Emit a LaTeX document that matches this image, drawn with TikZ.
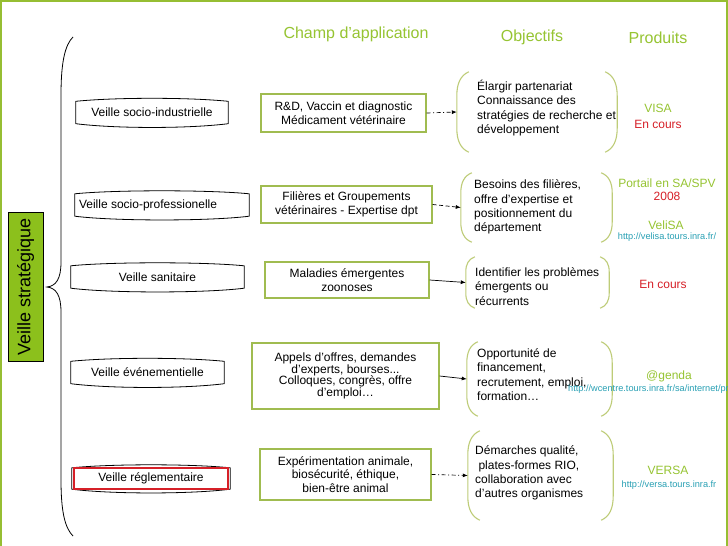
\documentclass[tikz,border=0pt]{standalone}
\usepackage{fontspec}
\setmainfont{Liberation Sans}
\usetikzlibrary{arrows.meta}
\definecolor{frameg}{RGB}{150,190,50}
\definecolor{hdrg}{RGB}{150,196,50}
\definecolor{boxg}{RGB}{160,188,80}
\definecolor{parg}{RGB}{190,204,120}
\definecolor{lblg}{RGB}{140,192,28}
\definecolor{redc}{RGB}{214,32,40}
\definecolor{tealc}{RGB}{40,160,180}
\newcommand\mybody{\fontsize{12}{13.5}\selectfont}
\newcommand\myobj{\fontsize{12}{14.3}\selectfont}
\newcommand\myhdr{\fontsize{16}{19}\selectfont}
\newcommand\myurl{\fontsize{9.2}{11}\selectfont}
\newcommand\lboxdraw[1]{%
  \draw[lboxline] (#1.north west)
    .. controls ([xshift=40pt,yshift=4pt]#1.north west) and ([xshift=-40pt,yshift=4pt]#1.north east) .. (#1.north east)
    -- (#1.south east)
    .. controls ([xshift=-40pt,yshift=-5pt]#1.south east) and ([xshift=40pt,yshift=-5pt]#1.south west) .. (#1.south west)
    -- cycle;}
\newcommand\objparens[3]{%
  \draw[parline] ([xshift=#2]#1.north west)
    .. controls ([xshift=0.3*#2,yshift=-0.15*#3]#1.north west) and ([yshift=-0.5*#3]#1.north west) .. ([yshift=-#3]#1.north west)
    -- ([yshift=#3]#1.south west)
    .. controls ([yshift=0.5*#3]#1.south west) and ([xshift=0.3*#2,yshift=0.15*#3]#1.south west) .. ([xshift=#2]#1.south west);
  \draw[parline] ([xshift=-#2]#1.north east)
    .. controls ([xshift=-0.3*#2,yshift=-0.15*#3]#1.north east) and ([yshift=-0.5*#3]#1.north east) .. ([yshift=-#3]#1.north east)
    -- ([yshift=#3]#1.south east)
    .. controls ([yshift=0.5*#3]#1.south east) and ([xshift=-0.3*#2,yshift=0.15*#3]#1.south east) .. ([xshift=-#2]#1.south east);}
\tikzset{
  lboxline/.style={draw=black, line width=0.8pt, line join=round},
  lbox/.style={draw=none, minimum height=22, inner sep=0, font=\mybody},
  midbox/.style={draw=boxg, line width=1.2pt, inner sep=0, align=center, font=\mybody},
  objreg/.style={draw=none, inner sep=0},
  objtxt/.style={anchor=west, align=left, inner sep=0, font=\myobj},
  parline/.style={draw=parg, line width=1.1pt},
  hdr/.style={text=hdrg, font=\myhdr, inner sep=0},
  prodg/.style={text=hdrg, font=\mybody, inner sep=0},
  prodr/.style={text=redc, font=\mybody, inner sep=0},
  produrl/.style={text=tealc, font=\myurl, inner sep=0},
  arr/.style={-{Latex[length=5pt,width=4pt]}, line width=0.7pt},
  arrdd/.style={arr, dash pattern=on 4pt off 2.5pt on 1pt off 2.5pt},
  arrds/.style={arr, dash pattern=on 4pt off 2.5pt},
}
\begin{document}
\begin{tikzpicture}[x=1pt,y=-1pt]
\useasboundingbox (0,0) rectangle (728,546);
\clip (0,0) rectangle (728,546);
\fill[white] (0,0) rectangle (728,546);
\draw[frameg, line width=1.5pt] (1,547) -- (1,1) -- (727,1) -- (727,547);

% headers
\node[hdr] (h1) at (356,34) {Champ d’application};
\node[hdr] (h2) at (532,37) {Objectifs};
\node[hdr] (h3) at (658,38) {Produits};

% left label
\node[draw=black, line width=0.8pt, fill=lblg, rotate=90, minimum width=149, minimum height=35, inner sep=0, font=\fontsize{18}{21}\selectfont] (vs) at (25.5,286.5) {Veille stratégique};

% brace
\coordinate (tip) at (47,287);
\draw[line width=0.8pt] (73,37) .. controls (65,45) and (61,62) .. (61,95) -- (61,262)
  .. controls (61,279) and (56,286) .. (tip)
  .. controls (56,288) and (61,295) .. (61,312) -- (61,480)
  .. controls (61,512) and (65,528) .. (73,536);

% left boxes
\node[lbox, minimum width=152] (v1) at (152,112.5) {Veille socio-industrielle};
\node[lbox, minimum width=174] (v2) at (162,205) {\makebox[166pt][l]{Veille socio-professionelle}};
\node[lbox, minimum width=173] (v3) at (157.5,277) {Veille sanitaire};
\node[lbox, minimum width=153] (v4) at (147.5,372.5) {Veille événementielle};
\node[lbox, minimum width=158, minimum height=21] (v5) at (151,478.5) {Veille réglementaire};
\lboxdraw{v1}
\lboxdraw{v2}
\lboxdraw{v3}
\lboxdraw{v4}
\lboxdraw{v5}
\node[draw=redc, line width=1.8pt, minimum width=154, minimum height=21, inner sep=0] (v5r) at (v5) {};

% middle boxes
\node[midbox, minimum width=165, minimum height=38] (m1) at (343.5,113) {R\&D, Vaccin et diagnostic\\Médicament vétérinaire};
\node[midbox, minimum width=171, minimum height=37] (m2) at (346.5,204.5) {Filières et Groupements\\vétérinaires - Expertise dpt};
\node[midbox, minimum width=164, minimum height=36] (m3) at (347,280) {Maladies émergentes\\zoonoses};
\node[midbox, minimum width=187, minimum height=66, font=\fontsize{12}{11.7}\selectfont] (m4) at (345.5,376) {Appels d’offres, demandes\\d’experts, bourses...\\Colloques, congrès, offre\\d’emploi…};
\node[midbox, minimum width=171, minimum height=51] (m5) at (345.5,474.5) {Expérimentation animale,\\biosécurité, éthique,\\bien-être animal};

% objective regions
\node[objreg, minimum width=160, minimum height=80] (o1) at (537,112) {};
\node[objreg, minimum width=151, minimum height=69] (o2) at (536.5,207.5) {};
\node[objreg, minimum width=143, minimum height=51] (o3) at (537.5,282.5) {};
\node[objreg, minimum width=145, minimum height=74] (o4) at (539.5,379) {};
\node[objreg, minimum width=145, minimum height=89] (o5) at (540.5,475.5) {};
\objparens{o1}{12pt}{24pt}
\objparens{o2}{11pt}{20pt}
\objparens{o3}{9pt}{15pt}
\objparens{o4}{11pt}{21pt}
\objparens{o5}{12pt}{24pt}

\node[objtxt] (t1) at (477,108) {Élargir partenariat\\Connaissance des\\stratégies de recherche et\\développement};
\node[objtxt] (t2) at (474,207) {Besoins des filières,\\offre d’expertise et\\positionnement du\\département};
\node[objtxt] (t3) at (475,286.5) {Identifier les problèmes\\émergents ou\\récurrents};
\node[objtxt] (t4) at (477,374.5) {Opportunité de\\financement,\\recrutement, emploi,\\formation…};
\node[objtxt] (t5) at (475,473) {Démarches qualité,\\\ plates-formes RIO,\\collaboration avec\\d’autres organismes};

% arrows
\draw[arrdd] (m1.east) -- (o1.west);
\draw[arrds] (m2.east) -- (o2.west);
\draw[arr] (m3.east) -- (o3.west);
\draw[arr] (m4.east) -- (o4.west);
\draw[arrdd] (m5.east) -- (o5.west);

% products
\node[prodg] (p1) at (658,108) {VISA};
\node[prodr] (p1s) at (658,124) {En cours};
\node[prodg] (p2) at (667,183) {Portail en SA/SPV};
\node[prodr] (p2s) at (667,196) {2008};
\node[prodg] (p2b) at (666,225) {VeliSA};
\node[produrl] (p2u) at (667,237) {http://velisa.tours.inra.fr/};
\node[prodr] (p3) at (663,284) {En cours};
\node[prodg] (p4) at (669,376) {@genda};
\node[produrl, anchor=west] (p4u) at (568,389) {http://wcentre.tours.inra.fr/sa/internet/pr};
\node[prodg] (p5) at (668,470) {VERSA};
\node[produrl] (p5u) at (669,485) {http://versa.tours.inra.fr};
\end{tikzpicture}
\end{document}
